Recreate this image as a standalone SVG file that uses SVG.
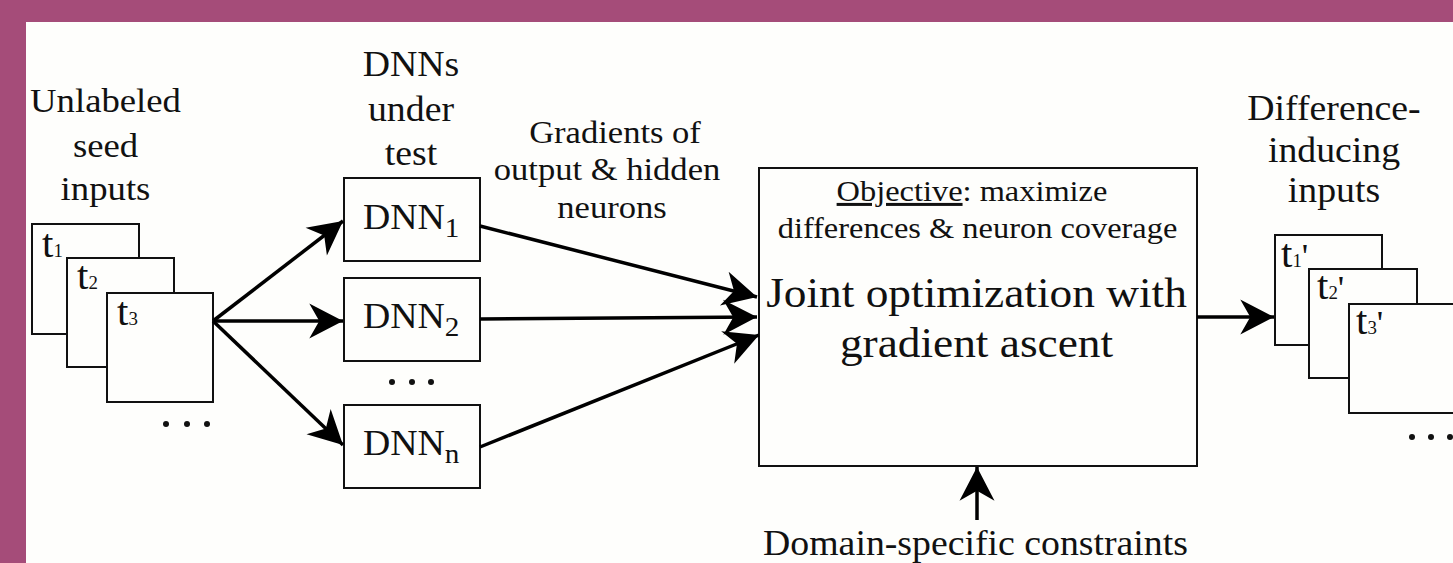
<svg xmlns="http://www.w3.org/2000/svg" width="1453" height="563" viewBox="0 0 1453 563">
<style>
.t{font-family:"Liberation Serif","Times New Roman",serif;fill:#111;}
.box{fill:#fefefc;stroke:#111;stroke-width:2;}
.con{stroke:#000;stroke-width:3.5;fill:none;marker-end:url(#ah);}
.dot{fill:#111;}
</style>
<defs>
<marker id="ah" markerUnits="userSpaceOnUse" markerWidth="40" markerHeight="40" viewBox="-30 -16 32 32" refX="0" refY="0" orient="auto">
<path d="M0,0 L-27,-14 L-19,0 L-27,14 Z" fill="#000"/>
</marker>
</defs>
<rect x="0" y="0" width="1453" height="563" fill="#a54c79"/>
<rect x="26" y="22" width="1427" height="541" fill="#fefefc"/>

<g id="seed-inputs">
<text class="t" font-size="34" text-anchor="middle" transform="translate(105.5,112) scale(1.08,1)">Unlabeled</text>
<text class="t" font-size="34" text-anchor="middle" transform="translate(105.5,157) scale(1.08,1)">seed</text>
<text class="t" font-size="34" text-anchor="middle" transform="translate(105.5,200) scale(1.08,1)">inputs</text>
<rect class="box" x="32" y="224" width="107" height="110"/>
<text class="t" font-size="39" transform="translate(42,257) scale(1.05,1)">t<tspan font-size="18">1</tspan></text>
<rect class="box" x="67" y="258" width="107" height="109"/>
<text class="t" font-size="39" transform="translate(77,289) scale(1.05,1)">t<tspan font-size="18">2</tspan></text>
<rect class="box" x="107" y="293" width="106" height="109"/>
<text class="t" font-size="39" transform="translate(117,325) scale(1.05,1)">t<tspan font-size="18">3</tspan></text>
<circle class="dot" cx="166" cy="424" r="3"/>
<circle class="dot" cx="187" cy="424" r="3"/>
<circle class="dot" cx="207" cy="424" r="3"/>
</g>

<g id="dnns">
<text class="t" font-size="35" text-anchor="middle" transform="translate(411,76) scale(1.08,1)">DNNs</text>
<text class="t" font-size="35" text-anchor="middle" transform="translate(411,121) scale(1.08,1)">under</text>
<text class="t" font-size="35" text-anchor="middle" transform="translate(411,165) scale(1.08,1)">test</text>
</g>
<g id="dnn1">
<rect class="box" x="344" y="178" width="136" height="83"/>
<text class="t" font-size="35" transform="translate(363,229) scale(1.08,1)">DNN<tspan font-size="27" dy="8">1</tspan></text>
</g>
<g id="dnn2">
<rect class="box" x="344" y="278" width="136" height="83"/>
<text class="t" font-size="35" transform="translate(363,328) scale(1.08,1)">DNN<tspan font-size="27" dy="8">2</tspan></text>
</g>
<g id="dnn-dots">
<circle class="dot" cx="392" cy="382" r="3"/>
<circle class="dot" cx="412" cy="382" r="3"/>
<circle class="dot" cx="431" cy="382" r="3"/>
</g>
<g id="dnnn">
<rect class="box" x="344" y="405" width="136" height="83"/>
<text class="t" font-size="35" transform="translate(363,455) scale(1.08,1)">DNN<tspan font-size="27" dy="8">n</tspan></text>
</g>

<g id="gradients-label">
<text class="t" font-size="32" text-anchor="middle" transform="translate(615,143) scale(1.08,1)">Gradients of</text>
<text class="t" font-size="32" text-anchor="middle" transform="translate(607,180) scale(1.08,1)">output &amp; hidden</text>
<text class="t" font-size="32" text-anchor="middle" transform="translate(612,218) scale(1.08,1)">neurons</text>
</g>

<g id="joint-optimization">
<rect class="box" x="759" y="168" width="438" height="298"/>
<text class="t" font-size="30" text-anchor="middle" transform="translate(972,201) scale(1.08,1)"><tspan style="text-decoration:underline">Objective</tspan>: maximize</text>
<text class="t" font-size="30" text-anchor="middle" transform="translate(977.5,238) scale(1.08,1)">differences &amp; neuron coverage</text>
<text class="t" font-size="42" text-anchor="middle" transform="translate(976.5,307) scale(1.08,1)">Joint optimization with</text>
<text class="t" font-size="42" text-anchor="middle" transform="translate(976.5,357) scale(1.08,1)">gradient ascent</text>
</g>

<g id="constraints">
<text class="t" font-size="35" text-anchor="middle" transform="translate(975.5,555) scale(1.08,1)">Domain-specific constraints</text>
</g>

<g id="outputs">
<text class="t" font-size="35" text-anchor="middle" transform="translate(1334,120) scale(1.08,1)">Difference-</text>
<text class="t" font-size="35" text-anchor="middle" transform="translate(1334,162) scale(1.08,1)">inducing</text>
<text class="t" font-size="35" text-anchor="middle" transform="translate(1334,202) scale(1.08,1)">inputs</text>
<rect class="box" x="1275" y="235" width="107" height="110"/>
<text class="t" font-size="39" transform="translate(1281,267) scale(1.05,1)">t<tspan font-size="18">1</tspan><tspan font-size="34">'</tspan></text>
<rect class="box" x="1309" y="269" width="108" height="109"/>
<text class="t" font-size="39" transform="translate(1317,299) scale(1.05,1)">t<tspan font-size="18">2</tspan><tspan font-size="34">'</tspan></text>
<rect class="box" x="1349" y="304" width="120" height="109"/>
<text class="t" font-size="39" transform="translate(1356,334) scale(1.05,1)">t<tspan font-size="18">3</tspan><tspan font-size="34">'</tspan></text>
<circle class="dot" cx="1412" cy="437" r="3"/>
<circle class="dot" cx="1431" cy="437" r="3"/>
<circle class="dot" cx="1450" cy="437" r="3"/>
</g>

<g id="connectors">
<line class="con" x1="213" y1="321" x2="343" y2="221"/>
<line class="con" x1="213" y1="321" x2="343" y2="321"/>
<line class="con" x1="213" y1="321" x2="343" y2="445"/>
<line class="con" x1="480" y1="226" x2="757" y2="297"/>
<line class="con" x1="480" y1="319" x2="757" y2="317"/>
<line class="con" x1="480" y1="447" x2="759" y2="335"/>
<line class="con" x1="1197" y1="317" x2="1274" y2="317"/>
<line class="con" x1="977" y1="520" x2="977" y2="467"/>
</g>
</svg>
